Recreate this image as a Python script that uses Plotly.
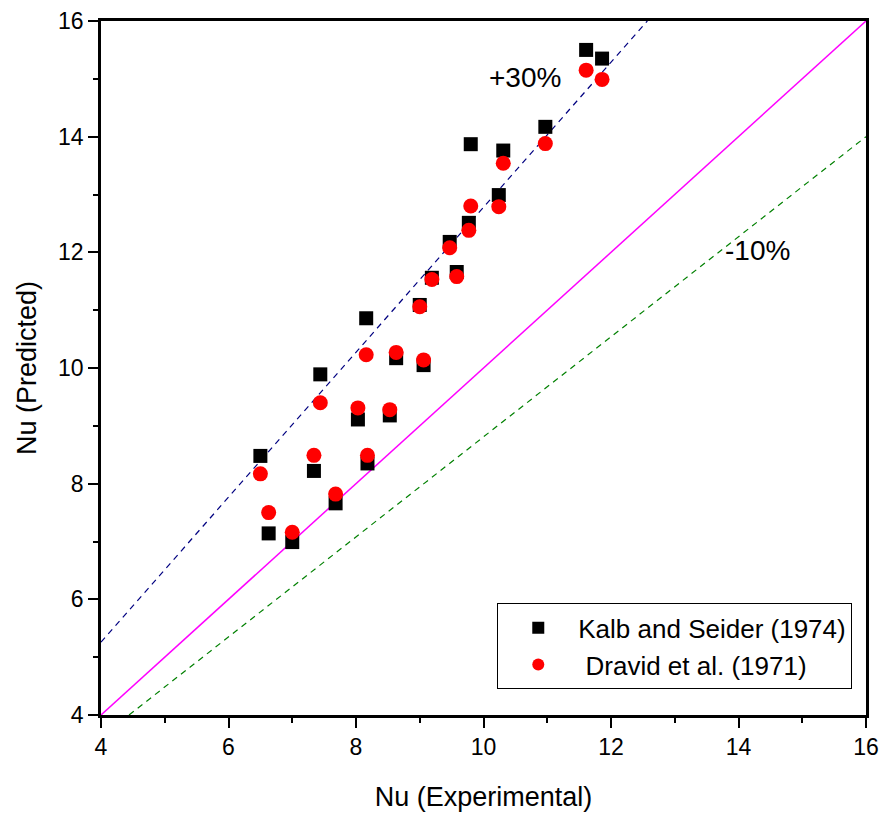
import plotly.graph_objects as go

# Experimental Nusselt numbers (shared by both correlations)
nu_exp = [6.50, 6.63, 7.00, 7.34, 7.44, 7.68, 8.03, 8.16, 8.18, 8.53, 8.63, 9.06,
          9.00, 9.19, 9.47, 9.58, 9.77, 9.80, 10.24, 10.31, 10.97, 11.61, 11.86]

# Predicted Nusselt numbers
nu_kalb = [8.48, 7.14, 6.99, 8.22, 9.89, 7.66, 9.11, 10.86, 8.35, 9.18, 10.17, 10.05,
           11.09, 11.56, 12.18, 11.66, 12.51, 13.87, 12.99, 13.76, 14.17, 15.50, 15.35]
nu_dravid = [8.17, 7.50, 7.16, 8.49, 9.40, 7.82, 9.31, 10.23, 8.49, 9.28, 10.27, 10.14,
             11.06, 11.53, 12.08, 11.58, 12.38, 12.80, 12.79, 13.54, 13.88, 15.15, 14.99]

# Reference lines
parity_x = [4, 16]
parity_y = [4, 16]
plus30_x = [4, 12.57]
plus30_y = [5.26, 16]
minus10_x = [4.44, 16]
minus10_y = [4, 14]

label_plus30 = "+30%"
label_minus10 = "-10%"

FONT = "Liberation Sans, Arial, sans-serif"

fig = go.Figure()

fig.add_trace(go.Scatter(x=plus30_x, y=plus30_y, mode="lines",
                         line=dict(color="#000080", width=1.2, dash="6px,5px"),
                         showlegend=False, hoverinfo="skip"))
fig.add_trace(go.Scatter(x=parity_x, y=parity_y, mode="lines",
                         line=dict(color="#FF00FF", width=1.5),
                         showlegend=False, hoverinfo="skip"))
fig.add_trace(go.Scatter(x=minus10_x, y=minus10_y, mode="lines",
                         line=dict(color="#008000", width=1.2, dash="6px,5px"),
                         showlegend=False, hoverinfo="skip"))

fig.add_trace(go.Scatter(x=nu_exp, y=nu_kalb, mode="markers",
                         name="Kalb and Seider (1974)",
                         marker=dict(symbol="square", size=14, color="black")))
fig.add_trace(go.Scatter(x=nu_exp, y=nu_dravid, mode="markers",
                         name="\u00a0Dravid et al. (1971)",
                         marker=dict(symbol="circle", size=15, color="#FF0000")))

fig.add_annotation(x=10.65, y=15.03, xref="x", yref="y", text=label_plus30,
                   showarrow=False, xanchor="center", yanchor="middle",
                   font=dict(family=FONT, size=28, color="black"))
fig.add_annotation(x=14.3, y=12.04, xref="x", yref="y", text=label_minus10,
                   showarrow=False, xanchor="center", yanchor="middle",
                   font=dict(family=FONT, size=28, color="black"))

axis_common = dict(
    showgrid=False, zeroline=False, automargin=False,
    showline=True, linecolor="black", linewidth=2.5, mirror=True,
    ticks="outside", ticklen=10, tickwidth=2, tickcolor="black",
    tickfont=dict(family=FONT, size=23, color="black"),
    dtick=2,
    minor=dict(ticks="outside", ticklen=5, tickwidth=2, tickcolor="black", dtick=1),
)

fig.update_xaxes(range=[4, 16], tick0=4,
                 title=dict(text="Nu (Experimental)", standoff=28,
                            font=dict(family=FONT, size=27, color="black")),
                 **axis_common)
fig.update_yaxes(range=[4, 16], tick0=4,
                 title=dict(text="Nu (Predicted)", standoff=14,
                            font=dict(family=FONT, size=27, color="black")),
                 **axis_common)

fig.update_layout(
    width=883, height=821,
    margin=dict(l=101, r=17, t=21, b=106, autoexpand=False),
    plot_bgcolor="white", paper_bgcolor="white",
    legend=dict(x=0.518, y=0.037, xanchor="left", yanchor="bottom",
                bordercolor="black", borderwidth=1, bgcolor="white",
                font=dict(family=FONT, size=26, color="black"),
                itemwidth=70, itemsizing="constant"),
)

fig.write_html("out.html")
